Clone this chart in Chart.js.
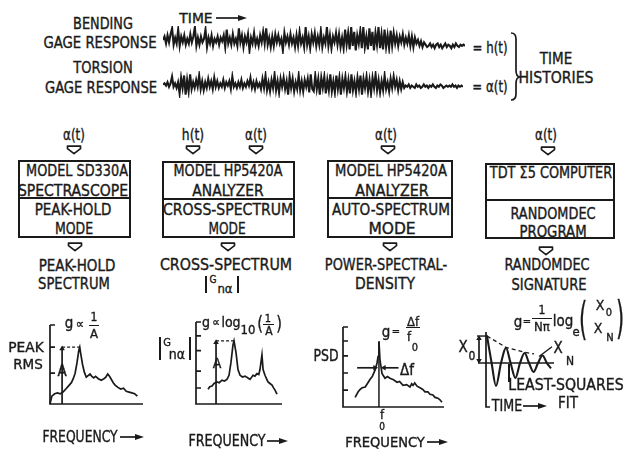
<!DOCTYPE html>
<html lang="en">
<head>
<meta charset="UTF-8">
<title>Damping from gage time histories</title>
<script src="https://cdn.jsdelivr.net/npm/chart.js"></script>
<style>
  body { margin: 0; background: #fff; }
  #page {
    position: relative; width: 629px; height: 450px; overflow: hidden;
    font-family: "DejaVu Sans Condensed", "DejaVu Sans", sans-serif;
    font-stretch: condensed; font-size: 15px; color: #1a1a1a;
    -webkit-text-stroke: 0.35px #1a1a1a;
  }
  #page canvas { position: absolute; }
  .t { position: absolute; transform: translate(-50%, -50%); white-space: nowrap; line-height: 1; }
  .box { position: absolute; border: 2px solid #1a1a1a; box-sizing: border-box; }
  .bar { position: absolute; background: #1a1a1a; }
  svg { position: absolute; overflow: visible; }
  svg path { fill: none; stroke: #1a1a1a; stroke-width: 1.7; stroke-linejoin: round; }
  svg path.f { fill: #1a1a1a; stroke: none; }
</style>
</head>
<body>
<div id="page">
  <!-- time histories -->
  <div class="t" data-w="60" style="left:103px;top:24px">BENDING</div>
  <div class="t" data-w="113" style="left:100px;top:43px">GAGE RESPONSE</div>
  <div class="t" data-w="33" style="left:196px;top:18px;font-size:14px">TIME</div>
  <div class="t" data-w="60" style="left:103px;top:68px">TORSION</div>
  <div class="t" data-w="112" style="left:101px;top:88px">GAGE RESPONSE</div>
  <canvas id="bending" width="302" height="28" style="left:163px;top:26px"></canvas>
  <canvas id="torsion" width="300" height="27" style="left:163px;top:71px"></canvas>
  <div class="t" data-w="35" style="left:490px;top:48px">= h(t)</div>
  <div class="t" data-w="35" style="left:490px;top:87px">= α(t)</div>
  <div class="t" data-w="32" style="left:556px;top:59px">TIME</div>
  <div class="t" data-w="75" style="left:556px;top:78px">HISTORIES</div>

  <!-- inputs -->
  <div class="t" data-w="22" style="left:74px;top:135px">α(t)</div>
  <div class="t" data-w="22" style="left:193px;top:135px">h(t)</div>
  <div class="t" data-w="22" style="left:256px;top:135px">α(t)</div>
  <div class="t" data-w="22" style="left:386px;top:135px">α(t)</div>
  <div class="t" data-w="22" style="left:546px;top:135px">α(t)</div>

  <!-- boxes -->
  <div class="box" style="left:18px;top:160px;width:113px;height:78px"></div>
  <div class="bar" style="left:18px;top:197px;width:113px;height:2px"></div>
  <div class="t" data-w="102" style="left:77px;top:171px">MODEL SD330A</div>
  <div class="t" data-w="110" style="left:73px;top:191px">SPECTRASCOPE</div>
  <div class="t" data-w="77" style="left:73px;top:210px">PEAK-HOLD</div>
  <div class="t" data-w="38" style="left:74px;top:229px">MODE</div>

  <div class="box" style="left:162px;top:161px;width:133px;height:77px"></div>
  <div class="bar" style="left:162px;top:198px;width:133px;height:2px"></div>
  <div class="t" data-w="109" style="left:228px;top:171px">MODEL HP5420A</div>
  <div class="t" data-w="71" style="left:228px;top:191px">ANALYZER</div>
  <div class="t" data-w="130" style="left:228px;top:210px">CROSS-SPECTRUM</div>
  <div class="t" data-w="37" style="left:227px;top:229px">MODE</div>

  <div class="box" style="left:327px;top:160px;width:126px;height:78px"></div>
  <div class="bar" style="left:327px;top:197px;width:126px;height:2px"></div>
  <div class="t" data-w="112" style="left:391px;top:171px">MODEL HP5420A</div>
  <div class="t" data-w="73" style="left:392px;top:191px">ANALYZER</div>
  <div class="t" data-w="118" style="left:391px;top:210px">AUTO-SPECTRUM</div>
  <div class="t" data-w="47" style="left:392px;top:229px">MODE</div>

  <div class="box" style="left:485px;top:163px;width:130px;height:76px"></div>
  <div class="bar" style="left:485px;top:199px;width:130px;height:2px"></div>
  <div class="t" data-w="122" style="left:551px;top:173px">TDT Σ5 COMPUTER</div>
  <div class="t" data-w="85" style="left:553px;top:214px">RANDOMDEC</div>
  <div class="t" data-w="67" style="left:553px;top:232px">PROGRAM</div>

  <!-- outputs -->
  <div class="t" data-w="77" style="left:77px;top:266px">PEAK-HOLD</div>
  <div class="t" data-w="72" style="left:74px;top:284px">SPECTRUM</div>
  <div class="t" data-w="132" style="left:226px;top:265px">CROSS-SPECTRUM</div>
  <div class="bar" style="left:205px;top:276px;width:1.6px;height:17px"></div>
  <div class="t" style="left:213px;top:280px;font-size:10px">G</div>
  <div class="t" style="left:225px;top:288px;font-size:13px">nα</div>
  <div class="bar" style="left:237px;top:276px;width:1.6px;height:17px"></div>
  <div class="t" data-w="122" style="left:386px;top:265px">POWER-SPECTRAL-</div>
  <div class="t" data-w="60" style="left:385px;top:284px">DENSITY</div>
  <div class="t" data-w="85" style="left:547px;top:265px">RANDOMDEC</div>
  <div class="t" data-w="75" style="left:549px;top:285px">SIGNATURE</div>

  <!-- peak-hold plot -->
  <canvas id="peakhold" width="105" height="91" style="left:44px;top:319px"></canvas>
  <div class="t" style="left:69px;top:323px">g</div>
  <div class="t" style="left:80px;top:323px;font-size:13px">∝</div>
  <div class="t" style="left:94px;top:317px;font-size:12px">1</div>
  <div class="bar" style="left:89px;top:325px;width:10px;height:1.4px"></div>
  <div class="t" style="left:94px;top:333px;font-size:13px">A</div>
  <div class="t" data-w="35" style="left:26px;top:347px;font-size:14px">PEAK</div>
  <div class="t" data-w="30" style="left:28px;top:364px;font-size:14px">RMS</div>
  <div class="t" style="left:62px;top:371px">A</div>
  <div class="t" data-w="75" style="left:80px;top:437px">FREQUENCY</div>

  <!-- cross-spectrum plot -->
  <canvas id="cross" width="98" height="94" style="left:190px;top:316px"></canvas>
  <div class="t" style="left:206px;top:322px;font-size:14px">g</div>
  <div class="t" style="left:216px;top:322px;font-size:12px">∝</div>
  <div class="t" style="left:231px;top:322px;font-size:14px">log</div>
  <div class="t" style="left:248px;top:329px;font-size:13px">10</div>
  <div class="t" data-w="6" style="left:260px;top:323px;font-size:19px">(</div>
  <div class="t" style="left:268px;top:318px;font-size:11px">1</div>
  <div class="bar" style="left:263px;top:324px;width:11px;height:1.4px"></div>
  <div class="t" style="left:269px;top:331px;font-size:12px">A</div>
  <div class="t" data-w="6" style="left:279px;top:323px;font-size:19px">)</div>
  <div class="bar" style="left:159px;top:337px;width:1.6px;height:23px"></div>
  <div class="t" style="left:167px;top:342px;font-size:11px">G</div>
  <div class="t" style="left:177px;top:354px;font-size:14px">nα</div>
  <div class="bar" style="left:189px;top:337px;width:1.6px;height:23px"></div>
  <div class="t" style="left:217px;top:363px;font-size:14px">A</div>
  <div class="t" data-w="77" style="left:227px;top:441px">FREQUENCY</div>

  <!-- PSD plot -->
  <canvas id="psd" width="113" height="92" style="left:337px;top:321px"></canvas>
  <div class="t" style="left:386px;top:332px">g</div>
  <div class="t" style="left:396px;top:331px;font-size:11px">=</div>
  <div class="t" style="left:413px;top:321px;font-size:13px">Δf</div>
  <div class="bar" style="left:406px;top:327px;width:14px;height:1.4px"></div>
  <div class="t" style="left:409px;top:336px;font-size:13px">f</div>
  <div class="t" style="left:415px;top:347px;font-size:11px">0</div>
  <div class="t" data-w="25" style="left:326px;top:356px">PSD</div>
  <div class="t" style="left:407px;top:370px">Δf</div>
  <div class="t" style="left:382px;top:414px;font-size:13px">f</div>
  <div class="t" style="left:382px;top:427px;font-size:10px">0</div>
  <div class="t" data-w="80" style="left:385px;top:442px;font-size:14px">FREQUENCY</div>

  <!-- randomdec plot -->
  <canvas id="ringdown" width="92" height="87" style="left:470px;top:326px"></canvas>
  <div class="t" style="left:518px;top:322px">g</div>
  <div class="t" style="left:527px;top:321px;font-size:11px">=</div>
  <div class="t" style="left:542px;top:310px;font-size:12px">1</div>
  <div class="bar" style="left:532px;top:318px;width:20px;height:1.4px"></div>
  <div class="t" style="left:542px;top:326px;font-size:13px">Nπ</div>
  <div class="t" style="left:563px;top:321px">log</div>
  <div class="t" style="left:576px;top:331px;font-size:13px">e</div>
  <div class="t" data-w="8" style="left:583px;top:319px;font-size:44px">(</div>
  <div class="t" style="left:600px;top:305px;font-size:14px">X</div>
  <div class="t" style="left:609px;top:312px;font-size:11px">0</div>
  <div class="t" style="left:598px;top:328px;font-size:14px">X</div>
  <div class="t" style="left:610px;top:337px;font-size:11px">N</div>
  <div class="t" data-w="8" style="left:620px;top:318px;font-size:44px">)</div>
  <div class="t" style="left:463px;top:347px">X</div>
  <div class="t" style="left:472px;top:356px;font-size:12px">0</div>
  <div class="t" style="left:558px;top:348px">X</div>
  <div class="t" style="left:570px;top:361px;font-size:12px">N</div>
  <div class="bar" style="left:508px;top:364px;width:1.6px;height:18px"></div>
  <div class="t" data-w="115" style="left:566px;top:385px">LEAST-SQUARES</div>
  <div class="t" data-w="20" style="left:568px;top:403px">FIT</div>
  <div class="t" data-w="30" style="left:507px;top:406px">TIME</div>
</div>

<script>
// gage records (arbitrary units)
const bendingTrace = [
  0, 3, -3, 4, -2, 5, 10, -4, 2, -3, 9, -5, 3, -2, 4, -4, 1, -3, 5, -2, 3, 11, -5, 2, -4,
  3, -2, 1, 9, -6, 2, -3, 4, -5, 1, -2, 3, -4, 2, -1, 4, -6, 9, -3, 2, -4, 5, -3, 1, -5,
  10, -2, 4, -6, 3, -2, 5, -9, 2, -3, 6, -4, 1, -5, 4, -2, 7, -3, 10, -4, 2, -6, 3, -5, 5,
  -2, 4, -3, 1, -9, 6, -2, 3, -4, 5, -3, 2, -6, 4, -5, 7, -3, 2, -6, 11, -4, 3, -7, 5, -2,
  6, -5, 3, -4, 8, -6, 2, -3, 11, -5, 4, -7, 3, -2, 6, -4, 5, -6, 2, -7, 9, -4, 6, -8, 11,
  -5, 7, -9, 4, -3, 8, -7, 11, -6, 3, -8, 10, -5, 7, -9, 6, -4, 11, -7, 5, -8, 9, -6, 4, -7,
  8, -5, 6, -3, 4, -5, 3, -2, 5, -4, 2, -3, 4, -5, 3, -6, 2, -3, 0, -5, -1, -6, -2, -4, -6,
  -5, -3, -6, -4, -7, -4, -3, -6, -4, -7, -5, -3, -6, -4, -5, -7, -4, -6, -3, -5, -6, -4, -5, -4, -5
];
const torsionTrace = [
  0, 1, -1, 2, -2, 1, 7, -2, 1, -3, 2, -8, 6, -3, 8, -9, 4, -6, 9, -4, 2, -3, 4, -2, 8,
  -4, 3, -5, 2, -3, 5, -2, 3, -4, 6, -2, 3, -3, 1, -2, 4, -3, 2, -1, 3, -4, 7, -2, 1, -3,
  2, -2, 4, -3, 1, -2, 3, -1, 6, -3, 2, -4, 3, -2, 1, -4, 5, -3, 8, -5, 2, -6, 4, -3, 9,
  -5, 3, -7, 5, -2, 6, -4, 3, -9, 7, -3, 5, -6, 2, -4, 8, -5, 3, -6, 4, -2, 5, -7, 9, -4,
  -6, 8, -4, 5, -9, 6, -3, 7, -8, 4, -5, 9, -6, 3, -7, 8, -4, 6, -9, 5, -3, 7, -6, 4, -8,
  9, -5, 3, -7, 6, -4, 8, -9, 5, -3, 7, -6, 4, -8, 6, -3, 9, -5, 4, -7, 3, -5, 8, -4, 2,
  -6, 5, -3, 7, -2, 4, -5, 3, -4, 2, -3, -1, -2, 0, -3, -1, -2, -3, 0, -2, -1, -3, -2, 0, -2,
  -1, -3, -1, -2, 0, -2, -3, -1, -2, 0, -1, -3, -2, -1, -2, -1, -2, 0, -2, -1, -3, -1, -2, -1, -2
];

// peak-hold spectrum (frequency %, rms %)
const peakHoldFreq = [0, 2, 5, 8, 11, 14, 17, 20, 23, 25, 27, 29, 31, 32, 33, 35, 37, 39, 41, 43,
  45, 47, 49, 52, 55, 58, 60, 62, 64, 66, 68, 70, 73, 76, 79, 82, 85, 88, 91, 94];
const peakHoldAmp = [0, 10, 13, 14, 13, 15, 19, 23, 27, 32, 39, 52, 68, 72, 64, 50, 40, 34, 36, 38,
  35, 33, 35, 32, 30, 32, 34, 38, 35, 31, 27, 24, 21, 19, 20, 16, 15, 14, 13, 10];
const peakHoldTicks = [39, 72, 100];
const peakHoldMark = 13;

// cross-spectrum |G|
const crossFreq = [14, 16, 18.6, 21, 24.4, 27, 30.2, 33, 36, 38.4, 40.7, 43, 44.2, 46.5, 48.8, 51.2, 54,
  57, 60, 62.8, 66.3, 68.5, 70.9, 73, 74.4, 76.7, 78, 80.2, 83.7, 86, 88.4, 90, 91.9, 94.2];
const crossAmp = [18, 21, 22, 25, 27, 26, 29, 28, 30, 35, 51, 72, 77, 63, 42, 35, 33,
  34, 32, 30, 35, 34, 37, 36, 42, 60, 42, 35, 27, 25, 23, 20, 17, 12];
const crossTicks = [19.5, 40, 65, 83, 100];
const crossMark = 23.3;

// power spectral density
const psdFreq = [12, 15, 17, 19, 22, 25, 27, 29, 31.7, 33.7, 34.7, 35.6, 36.6, 38.6, 41.6, 44, 46.5, 50, 53.5,
  56, 59.4, 63, 66.3, 68, 69.3, 71, 73.3, 76.2, 79, 81.2, 84, 86.1, 89, 91.1, 94, 96, 98];
const psdAmp = [12, 19, 22, 24, 25, 31, 35, 38, 46, 55, 63, 82, 59, 42, 36, 38, 36, 34, 31,
  32, 27, 28, 25, 29, 27, 30, 26, 24, 22, 19, 19, 16, 15, 12, 11, 9, 6];
const psdTicks = [21, 42.5, 64, 82.5, 100];
const halfPowerLevel = 49;

// randomdec signature (time, x / x0)
const ringTime = [0.5, 2.8, 5, 7.5, 10, 12.3, 14.7, 17, 19.3, 21.5, 23.8, 26, 28.3, 30.4, 32.5];
const ringValue = [1.0, 0, -0.85, 0, 0.56, 0, -0.55, 0, 0.37, 0, -0.33, 0, 0.28, 0, -0.2];
const envTime = [0.5, 10, 19.3, 24];
const envValue = [1.0, 0.58, 0.4, 0.34];

const ink = '#1a1a1a';
const page = document.getElementById('page');

// stretch labels to the widths they have in the drawing
document.querySelectorAll('.t[data-w]').forEach(el => {
  el.style.transform = 'translate(-50%,-50%) scaleX(' + (el.dataset.w / el.offsetWidth).toFixed(3) + ')';
});

function svgEl(left, top, w, h, inner) {
  page.insertAdjacentHTML('beforeend',
    `<svg style="left:${left}px;top:${top}px" width="${w}" height="${h}">${inner}</svg>`);
}
function rightArrow(x1, x2, cy) {
  const w = x2 - x1;
  svgEl(x1, cy - 4, w, 8, `<path d="M0 4H${w - 6}"/><path class="f" d="M${w - 9} 1L${w} 4L${w - 9} 7Z"/>`);
}
function downArrow(cx, top) {
  svgEl(cx - 8, top, 16, 10, '<path d="M1.5 1.2H14.5V3.6L8 8.6L1.5 3.6Z"/>');
}

[[74, 145], [193, 145], [256, 145], [388, 145], [548, 146],
 [75, 242], [228, 242], [390, 242], [546, 246]].forEach(p => downArrow(p[0], p[1]));
rightArrow(216, 247, 18);
rightArrow(120, 144, 437);
rightArrow(267, 288, 441);
rightArrow(427, 448, 442);
rightArrow(523, 547, 406);
svgEl(505, 30, 20, 75, '<path d="M6 3Q11 3 11 9V40Q11 47 15 47Q11 47 11 54V64Q11 70 6 70"/>');

// axes: a left rail with inward ticks and a floor line
const frame = {
  id: 'frame',
  beforeDatasetsDraw(chart, args, o) {
    const { ctx } = chart, x = chart.scales.x, y = chart.scales.y;
    const ax = x.getPixelForValue(o.at);
    const bot = y.getPixelForValue(y.min);
    ctx.save();
    ctx.strokeStyle = ink;
    ctx.lineWidth = 1.7;
    ctx.beginPath();
    ctx.moveTo(ax, y.getPixelForValue(y.max));
    ctx.lineTo(ax, bot);
    ctx.lineTo(x.getPixelForValue(o.end), bot);
    (o.ticks || []).forEach(v => {
      const py = y.getPixelForValue(v);
      ctx.moveTo(ax, py);
      ctx.lineTo(ax + 5, py);
    });
    ctx.stroke();
    ctx.restore();
  }
};

const pts = (xs, ys) => xs.map((x, i) => ({ x, y: ys[i] }));
function line(data, extra) {
  return Object.assign({ data, borderColor: ink, backgroundColor: ink, borderWidth: 1.7,
    pointRadius: 0, tension: 0, fill: false, clip: false }, extra || {});
}
function arrow(data, rot) {
  return line(data, {
    pointStyle: 'triangle',
    pointRadius: rot.map(r => r === null ? 0 : 3.2),
    pointRotation: rot.map(r => r || 0),
    pointBackgroundColor: ink, pointBorderColor: ink, pointBorderWidth: 0
  });
}

function trace(id, values) {
  new Chart(document.getElementById(id), {
    type: 'line',
    data: { labels: values.map((v, i) => i), datasets: [line(values, { borderWidth: 2.1 })] },
    options: {
      responsive: false, animation: false, events: [],
      layout: { padding: 0 },
      plugins: { legend: { display: false }, tooltip: { enabled: false } },
      scales: { x: { display: false }, y: { display: false, min: -12, max: 12 } }
    }
  });
}

function small(id, datasets, xr, yr, frameOpts) {
  new Chart(document.getElementById(id), {
    type: 'line',
    data: { datasets },
    options: {
      responsive: false, animation: false, events: [],
      layout: { padding: 6 },
      plugins: { legend: { display: false }, tooltip: { enabled: false }, frame: frameOpts },
      scales: {
        x: { type: 'linear', display: false, min: xr[0], max: xr[1] },
        y: { display: false, min: yr[0], max: yr[1] }
      }
    },
    plugins: [frame]
  });
}

trace('bending', bendingTrace);
trace('torsion', torsionTrace);

const phPeak = Math.max(...peakHoldAmp);
const phPeakFreq = peakHoldFreq[peakHoldAmp.indexOf(phPeak)];
small('peakhold', [
  line(pts(peakHoldFreq, peakHoldAmp)),
  arrow([{ x: peakHoldMark, y: 0 }, { x: peakHoldMark, y: phPeak - 2 }], [null, 0]),
  line([{ x: peakHoldMark, y: phPeak }, { x: phPeakFreq, y: phPeak }], { borderDash: [3, 2], borderWidth: 1.3 })
], [0, 100], [0, 100], { at: 0, end: 100, ticks: peakHoldTicks });

const crPeak = Math.max(...crossAmp);
const crPeakFreq = crossFreq[crossAmp.indexOf(crPeak)];
small('cross', [
  line(pts(crossFreq, crossAmp)),
  arrow([{ x: crossMark, y: 0 }, { x: crossMark, y: crPeak - 2 }], [null, 0]),
  line([{ x: crossMark, y: crPeak }, { x: crPeakFreq, y: crPeak }], { borderDash: [3, 2], borderWidth: 1.3 })
], [0, 100], [0, 100], { at: 0, end: 100, ticks: crossTicks });

const psdPeak = Math.max(...psdAmp);
const f0 = psdFreq[psdAmp.indexOf(psdPeak)];
small('psd', [
  line(pts(psdFreq, psdAmp)),
  line([{ x: f0, y: 0 }, { x: f0, y: psdPeak }], { borderWidth: 1.5 }),
  arrow([{ x: 14, y: halfPowerLevel }, { x: f0 - 4, y: halfPowerLevel }], [null, 90]),
  arrow([{ x: 55, y: halfPowerLevel }, { x: f0 + 5, y: halfPowerLevel }], [null, -90])
], [0, 100], [0, 100], { at: 0, end: 100, ticks: psdTicks });

small('ringdown', [
  line([{ x: -4, y: 0 }, { x: 34, y: 0 }], { borderWidth: 1.6 }),
  line([{ x: -4.5, y: 1 }, { x: 1, y: 1 }], { borderWidth: 1.4 }),
  arrow([{ x: -3.5, y: 0.09 }, { x: -3.5, y: 0.91 }], [180, 0]),
  line(pts(ringTime, ringValue), { borderWidth: 2.1, cubicInterpolationMode: 'monotone' }),
  line(pts(envTime, envValue), { borderDash: [4, 3], borderWidth: 1.3 }),
  line([{ x: 26.5, y: 0.24 }, { x: 33, y: 0.6 }], { borderWidth: 1.3 })
], [-5, 35], [-1.63, 1.15], { at: 0, end: 2, ticks: [] });
</script>
</body>
</html>
